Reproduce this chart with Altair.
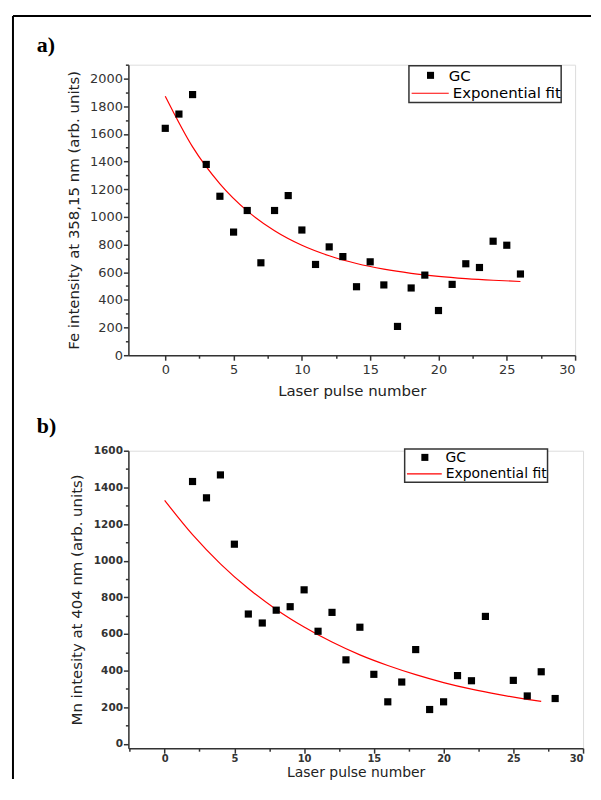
import altair as alt
import pandas as pd

# ---------------- data ----------------
pulse_a = list(range(27))
fe_a = [1640, 1743, 1884, 1379, 1149, 890, 1046, 668, 1046, 1154, 905, 656, 783, 713,
        495, 675, 508, 208, 486, 579, 323, 512, 661, 634, 824, 795, 587]
fit_x_a = [0, 2, 4, 6, 8, 10, 12, 14, 16, 18, 20, 22, 24, 26]
fit_a = [1872, 1506, 1239, 1043, 900, 795, 719, 663, 622, 592, 570, 554, 542, 533]

pulse_b = [2, 3, 4, 5, 6, 7, 8, 9, 10, 11, 12, 13, 14, 15, 16, 17, 18, 19, 20, 21, 22, 23,
           25, 26, 27, 28]
mn_b = [1432, 1343, 1468, 1090, 709, 660, 730, 749, 841, 615, 718, 459, 637, 380, 230, 338,
        515, 188, 230, 373, 345, 696, 347, 262, 394, 248]
fit_x_b = [0, 2, 4, 6, 8, 10, 12, 14, 16, 18, 20, 22, 24, 26, 27]
fit_b = [1329, 1142, 983, 848, 734, 638, 556, 486, 428, 378, 335, 299, 269, 243, 232]

a_y_ticks = list(range(0, 2101, 100))
b_y_ticks = list(range(0, 1601, 100))
a_x_ticks = [0, 2.5, 5, 7.5, 10, 12.5, 15, 17.5, 20, 22.5, 25, 27.5, 30]
b_x_ticks = [-2.5] + a_x_ticks

x_title = "Laser pulse number"
a_y_title = "Fe intensity at 358,15 nm (arb. units)"
b_y_title = "Mn intesity at 404 nm (arb. units)"
legend_labels = ["GC", "Exponential fit"]

one = pd.DataFrame({"k": [0]})

AX = "#333333"


def make_axis(values, major, title, label_size, label_pad, title_pad, title_size, weight):
    return alt.Axis(
        values=values,
        format="d",
        labelExpr=f"datum.value % {major} === 0 ? datum.label : ''",
        tickSize={"condition": {"test": f"datum.value % {major} === 0", "value": 5}, "value": 3},
        labelOverlap=False,
        title=title,
        titleFont="DejaVu Sans",
        titleFontSize=title_size,
        titleFontWeight="normal",
        titleColor="#222222",
        titlePadding=title_pad,
        labelFont="DejaVu Sans",
        labelFontSize=label_size,
        labelFontWeight=weight,
        labelColor="#333333",
        labelPadding=label_pad,
        domainColor=AX,
        tickColor=AX,
        domainWidth=1.5,
        tickWidth=1.5,
        grid=False,
    )


def panel(px, py, fx, fy, xdom, ydom, xt, yt, ytitle, w, h,
          xls, xlp, xtp, xts, yls, ylp, ytp, weight, leg, tag, tag_xy, leg_font):
    X = alt.X("pulse:Q", scale=alt.Scale(domain=xdom, nice=False, zero=False),
              axis=make_axis(xt, 5, x_title, xls, xlp, xtp, xts, weight))
    Y = alt.Y("value:Q", scale=alt.Scale(domain=ydom, nice=False, zero=False),
              axis=make_axis(yt, 200, ytitle, yls, ylp, ytp, 15, weight))
    pts = pd.DataFrame({"pulse": px, "value": py})
    fit = pd.DataFrame({"pulse": fx, "value": fy})

    line = alt.Chart(fit).mark_line(color="#ff0000", strokeWidth=1.2,
                                    interpolate="monotone").encode(x=X, y=Y)
    points = alt.Chart(pts).mark_square(size=52, color="black", opacity=1).encode(x=X, y=Y)

    bx0, bx1, by0, by1, sqx, sqy, lx0, lx1, ly, tx = leg
    box = alt.Chart(one).mark_rect(fill="white", stroke="#333333", strokeWidth=1.5).encode(
        x=alt.value(bx0), x2=alt.value(bx1), y=alt.value(by0), y2=alt.value(by1))
    sq = alt.Chart(one).mark_square(size=50, color="black", opacity=1).encode(
        x=alt.value(sqx), y=alt.value(sqy))
    lrule = alt.Chart(one).mark_rule(color="#ff0000", strokeWidth=1.2).encode(
        x=alt.value(lx0), x2=alt.value(lx1), y=alt.value(ly))
    t1 = alt.Chart(one).mark_text(align="left", baseline="middle", font="DejaVu Sans",
                                  fontSize=leg_font, color="black").encode(
        x=alt.value(tx), y=alt.value(sqy + 1), text=alt.value(legend_labels[0]))
    t2 = alt.Chart(one).mark_text(align="left", baseline="middle", font="DejaVu Sans",
                                  fontSize=leg_font, color="black").encode(
        x=alt.value(lx1 + 4), y=alt.value(ly), text=alt.value(legend_labels[1]))
    lab = alt.Chart(one).mark_text(align="left", baseline="alphabetic", font="Liberation Serif",
                                   fontWeight="bold", fontSize=22, color="black").encode(
        x=alt.value(tag_xy[0]), y=alt.value(tag_xy[1]), text=alt.value(tag))
    layers = [box, line, points, sq, lrule, t1, t2, lab]
    return layers, (w, h)


a_layers, (wa, ha) = panel(
    pulse_a, fe_a, fit_x_a, fit_a, [-2.7, 30], [0, 2100], a_x_ticks, a_y_ticks,
    a_y_title, 449, 292,
    13, 3, 8, 15, 13, 1, 8, "normal",
    (282, 435, 1, 38, 303.7, 10.7, 284.7, 322, 28.7, 322), "a)", (-92, -13), 15)

frame_top = alt.Chart(one).mark_rule(color="black", strokeWidth=2).encode(
    x=alt.value(-116), x2=alt.value(465), y=alt.value(-49))
frame_left = alt.Chart(one).mark_rule(color="black", strokeWidth=2).encode(
    x=alt.value(-116), y=alt.value(-49), y2=alt.value(718))

chart_a = alt.layer(frame_top, frame_left, *a_layers).properties(width=wa, height=ha)

b_layers, (wb, hb) = panel(
    pulse_b, mn_b, fit_x_b, fit_b, [-2.6, 30], [-23, 1600], b_x_ticks, b_y_ticks,
    b_y_title, 457, 299,
    10, 0, 2, 14, 10.5, 1, 9, "bold",
    (277.7, 421.3, -1.7, 31.7, 298, 6.7, 280, 315, 23.3, 318.7), "b)", (-92, -18), 14)

chart_b = alt.layer(*b_layers).properties(width=wb, height=hb)

chart = alt.vconcat(chart_a, chart_b, spacing=96, bounds="flush").properties(
    padding={"left": 3, "top": 4, "right": 0, "bottom": 0}
).configure_view(stroke=None).configure(background="white")

chart.save("out.html", embed_options={"renderer": "svg", "actions": False})
